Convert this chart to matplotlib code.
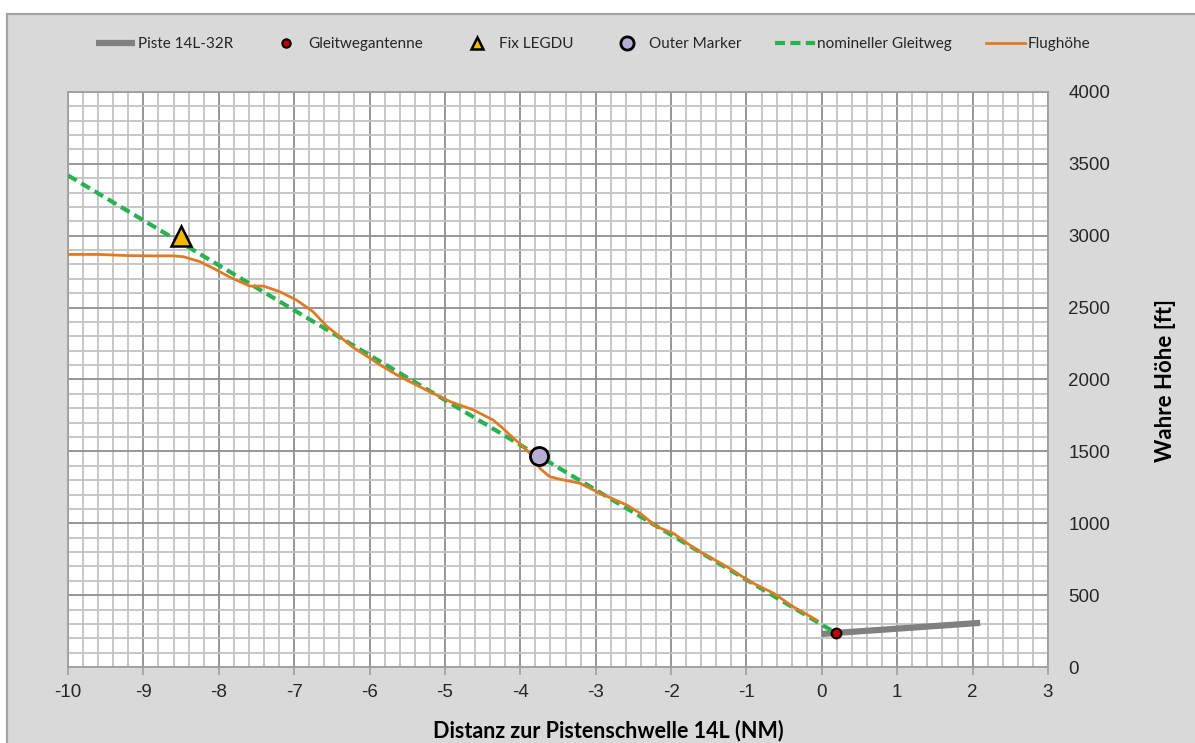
import matplotlib
matplotlib.use("Agg")
import matplotlib.pyplot as plt
from matplotlib.ticker import MultipleLocator
from matplotlib.patches import Rectangle

plt.rcParams["axes.unicode_minus"] = False

# ---------------- data ----------------
runway_x = [0.0, 2.1]
runway_y = [230, 307]

antenna_x = [0.19]
antenna_y = [235]

legdu_x = [-8.5]
legdu_y = [3000]

om_x = [-3.75]
om_y = [1468]

glide_x = [-10.0, 0.19]
glide_y = [3420, 235]

flight_x = [-10.0, -9.6, -9.2, -8.9, -8.6, -8.47, -8.25, -8.03, -7.85, -7.59,
            -7.41, -7.19, -6.97, -6.75, -6.57, -6.44, -6.22, -5.99, -5.86, -5.60,
            -5.20, -4.93, -4.62, -4.36, -4.23, -4.09, -3.96, -3.83, -3.74, -3.61,
            -3.47, -3.21, -2.94, -2.59, -2.41, -2.19, -1.97, -1.66, -1.26, -0.95,
            -0.64, -0.38, -0.11, -0.07]
flight_y = [2870, 2870, 2862, 2860, 2860, 2854, 2820, 2762, 2711, 2650,
            2650, 2611, 2553, 2472, 2372, 2317, 2224, 2147, 2101, 2020,
            1915, 1846, 1788, 1718, 1660, 1591, 1533, 1463, 1382, 1324,
            1306, 1278, 1208, 1127, 1069, 976, 930, 814, 698, 593,
            513, 419, 339, 327]

labels = ["Piste 14L-32R", "Gleitwegantenne", "Fix LEGDU", "Outer Marker",
          "nomineller Gleitweg", "Flughöhe"]

x_ticks = list(range(-10, 4))
y_ticks = list(range(0, 4001, 500))

# ---------------- figure ----------------
W, H = 1195, 743
fig = plt.figure(figsize=(W / 100, H / 100), dpi=100, facecolor="white")

# outer frame / background
fig.patches.append(Rectangle((7 / W, -0.1), 1.2, 1 - 14 / H + 0.1,
                             transform=fig.transFigure, facecolor="#d9d9d9",
                             edgecolor="#a3a3a3", linewidth=1.6, zorder=-10))

ax = fig.add_axes([68 / W, 1 - 667 / H, (1048 - 68) / W, (667 - 92) / H])
ax.set_facecolor("white")

ax.set_xlim(-10, 3)
ax.set_ylim(0, 4000)
ax.set_xticks(x_ticks)
ax.set_yticks(y_ticks)
ax.xaxis.set_minor_locator(MultipleLocator(0.2))
ax.yaxis.set_minor_locator(MultipleLocator(100))
ax.grid(which="minor", color="#c3c3c3", linewidth=1.3, zorder=0)
ax.grid(which="major", color="#8e8e8e", linewidth=1.3, zorder=0)
ax.set_axisbelow(True)

for s in ax.spines.values():
    s.set_color("#a0a0a0")
    s.set_linewidth(1.3)

ax.yaxis.tick_right()
ax.yaxis.set_label_position("right")
ax.tick_params(axis="y", which="both", length=0, pad=14.5, labelsize=13.5,
               labelcolor="#262626")
ax.tick_params(axis="x", which="major", length=6, width=1.2, color="#a0a0a0",
               direction="out", pad=6, labelsize=13.5, labelcolor="#262626")
ax.tick_params(axis="x", which="minor", length=0)
for lab in ax.get_xticklabels() + ax.get_yticklabels():
    lab.set_fontfamily("Liberation Sans")
for lab in ax.get_yticklabels():
    lab.set_horizontalalignment("left")

# ---------------- series ----------------
h_run, = ax.plot(runway_x, runway_y, color="#808080", linewidth=4.5,
                 solid_capstyle="butt", zorder=3, label=labels[0])
h_gs, = ax.plot(glide_x, glide_y, color="#27b34f", linewidth=3.0,
                dashes=(2.4, 1.3), zorder=4, label=labels[4])
h_fl, = ax.plot(flight_x, flight_y, color="#e07b24", linewidth=2.0,
                zorder=5, label=labels[5])
h_ant, = ax.plot(antenna_x, antenna_y, linestyle="none", marker="o",
                 markersize=7, markerfacecolor="#c00000",
                 markeredgecolor="black", markeredgewidth=1.5, zorder=7,
                 label=labels[1])
h_fix, = ax.plot(legdu_x, legdu_y, linestyle="none", marker="^",
                 markersize=14, markerfacecolor="#f5b800",
                 markeredgecolor="black", markeredgewidth=1.8, zorder=7,
                 label=labels[2])
h_om, = ax.plot(om_x, om_y, linestyle="none", marker="o",
                markersize=13, markerfacecolor="#b7aed8",
                markeredgecolor="black", markeredgewidth=2.0, zorder=7,
                label=labels[3])

# ---------------- labels ----------------
fig.text(1165 / W, 1 - 380 / H, "Wahre Höhe [ft]", rotation=90,
         ha="center", va="center", fontsize=16, fontweight="bold",
         fontfamily="Lato", color="black")
fig.text(608 / W, 1 - 731 / H, "Distanz zur Pistenschwelle 14L (NM)",
         ha="center", va="center", fontsize=15.5, fontweight="bold",
         fontfamily="Lato", color="black")

# ---------------- legend ----------------
handles = [h_run, h_ant, h_fix, h_om, h_gs, h_fl]
leg = fig.legend(handles, labels, loc="center", ncol=6, frameon=False,
                 bbox_to_anchor=(593 / W, 1 - 44 / H),
                 prop={"family": "Lato", "size": 11},
                 handlelength=2.6, handletextpad=0.15, columnspacing=2.2)
sizes = [None, 6, 9, 9.5, None, None]
for hnd, sz in zip(leg.legend_handles, sizes):
    if sz is not None:
        hnd.set_markersize(sz)
for t in leg.get_texts():
    t.set_color("#262626")

fig.savefig("out.png", dpi=100, facecolor=fig.get_facecolor())
